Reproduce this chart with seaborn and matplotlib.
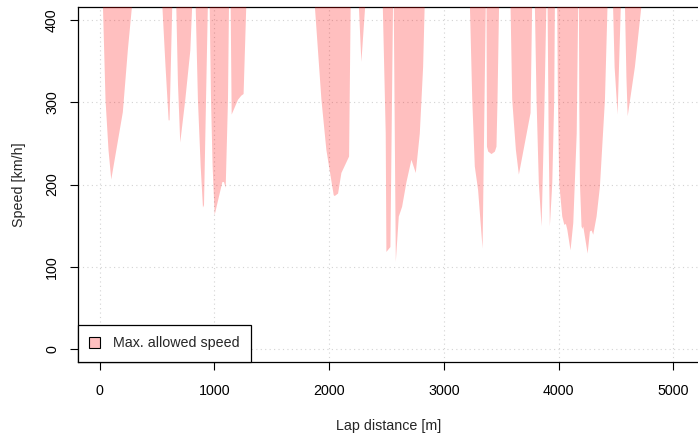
import matplotlib
matplotlib.use("Agg")
import matplotlib.pyplot as plt
import seaborn as sns
import pandas as pd
from matplotlib.patches import Patch

# braking zones: lap distance [m] and max allowed speed [km/h] per zone
zone_distance = [
    [29, 52, 78, 102, 203, 247, 285],
    [546, 575, 602, 610, 634],
    [668, 683, 703, 747, 791, 808],
    [837, 857, 881, 901, 910, 944],
    [959, 971, 985, 1003, 1070, 1084, 1099, 1119, 1128],
    [1142, 1151, 1206, 1235, 1255, 1279],
    [1874, 1933, 1976, 2040, 2049, 2078, 2107, 2174, 2188],
    [2258, 2281, 2316],
    [2467, 2493, 2499, 2534, 2557],
    [2563, 2581, 2607, 2636, 2674, 2717, 2755, 2790, 2819, 2833],
    [3226, 3247, 3269, 3298, 3337, 3365],
    [3371, 3375, 3386, 3415, 3444, 3458, 3467, 3481],
    [3580, 3595, 3627, 3653, 3755, 3769],
    [3792, 3807, 3827, 3851, 3875, 3893],
    [3903, 3913, 3923, 3944, 3961, 3967],
    [3987, 3993, 4005, 4031, 4049, 4063, 4075, 4103, 4127, 4157, 4170],
    [4176, 4179, 4185, 4199, 4208, 4214, 4252, 4272, 4287, 4301, 4330, 4359, 4403, 4426],
    [4473, 4487, 4513, 4542],
    [4577, 4590, 4601, 4664, 4723],
]
zone_speed = [
    [420, 303, 242, 206, 288, 364, 420],
    [420, 343, 278, 278, 420],
    [420, 323, 251, 303, 363, 420],
    [420, 303, 222, 172, 175, 420],
    [420, 303, 222, 163, 203, 203, 196, 303, 420],
    [420, 285, 303, 308, 310, 420],
    [420, 303, 242, 187, 186, 189, 214, 234, 420],
    [420, 349, 420],
    [420, 262, 118, 124, 420],
    [420, 106, 161, 173, 203, 230, 214, 262, 343, 420],
    [420, 303, 222, 193, 122, 420],
    [420, 246, 240, 237, 240, 246, 303, 420],
    [420, 303, 242, 212, 287, 420],
    [420, 303, 201, 149, 290, 420],
    [420, 250, 149, 201, 303, 420],
    [420, 303, 201, 161, 151, 152, 145, 120, 153, 262, 420],
    [420, 303, 201, 149, 146, 149, 116, 143, 144, 139, 161, 197, 303, 420],
    [420, 343, 285, 420],
    [420, 330, 283, 343, 420],
]
x_ticks = [0, 1000, 2000, 3000, 4000, 5000]
y_ticks = [0, 100, 200, 300, 400]

rows = []
for i, (ds, vs) in enumerate(zip(zone_distance, zone_speed)):
    for d, v in zip(ds, vs):
        rows.append((i, d, v))
seg_df = pd.DataFrame(rows, columns=["segment", "distance", "speed"])

sns.set_style("white")
plt.rcParams["font.family"] = ["Liberation Sans", "DejaVu Sans"]

fig = plt.figure(figsize=(6.98, 4.33), dpi=100)
ax = fig.add_axes([77.5 / 698, 1 - 361.7 / 433, (700 - 77.5) / 698, (361.7 - 7) / 433])
ax.set_xlim(-192, 5231)
ax.set_ylim(-15.4, 415.8)

for xt in x_ticks:
    ax.axvline(xt, color="lightgray", ls=(0, (1, 3)), lw=0.8, zorder=0)
for yt in y_ticks:
    ax.axhline(yt, color="lightgray", ls=(0, (1, 3)), lw=0.8, zorder=0)

fill_col = (1, 0, 0, 0.25)
sns.lineplot(data=seg_df, x="distance", y="speed", units="segment", estimator=None,
             sort=False, lw=0, color=fill_col, legend=False, ax=ax)
for _, g in seg_df.groupby("segment"):
    ax.fill_between(g["distance"], g["speed"], 1000, facecolor=fill_col, lw=0, zorder=3)

ax.set_xticks(x_ticks)
ax.set_yticks(y_ticks)
ax.set_yticklabels([str(v) for v in y_ticks], rotation=90, va="center")
ax.tick_params(direction="out", length=5.8, width=0.8, labelsize=10.3,
               colors="black", left=True, bottom=True)
ax.tick_params(axis="x", pad=10)
ax.tick_params(axis="y", pad=7.5)
for sp in ax.spines.values():
    sp.set_color("black")
    sp.set_linewidth(0.9)
    sp.set_visible(True)

ax.set_xlabel("Lap distance [m]", fontsize=10.3, labelpad=15.5)
ax.set_ylabel("Speed [km/h]", fontsize=10.3, labelpad=14)

handle = Patch(facecolor=fill_col, edgecolor="black", lw=0.8, label="Max. allowed speed")
leg = ax.legend(handles=[handle], loc="lower left", bbox_to_anchor=(0, 0),
                borderaxespad=0, frameon=True, fancybox=False, edgecolor="black",
                framealpha=1, handlelength=0.8, handleheight=0.8, handletextpad=0.9,
                borderpad=0.8, fontsize=10.3)
leg.get_frame().set_linewidth(0.9)
leg.set_zorder(5)

fig.savefig("out.png", dpi=100)
